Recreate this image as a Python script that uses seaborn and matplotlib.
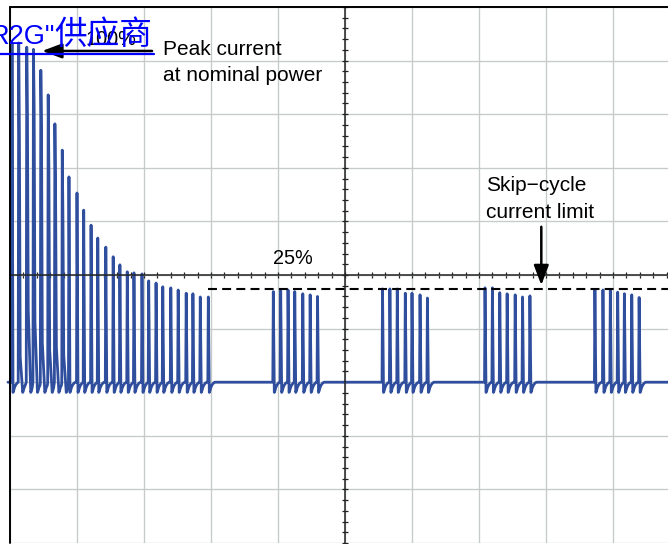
import numpy as np
import pandas as pd
import seaborn as sns
import matplotlib
matplotlib.use("Agg")
import matplotlib.pyplot as plt

# ---------------- data (oscilloscope divisions, screen centre = 0,0) ----------------
baseline = -2.0          # zero-current level
skip_limit = -0.26       # skip-cycle current limit (dashed line)
trace_start, trace_end = -5.03, 5.25

# start-up: decaying peak current
decay_t = [-4.97, -4.87, -4.75, -4.65, -4.54, -4.43, -4.33, -4.22, -4.12, -4.00,
           -3.90, -3.79, -3.69, -3.57, -3.46, -3.36, -3.25, -3.15, -3.03, -2.93,
           -2.82, -2.72, -2.60, -2.49, -2.37, -2.27, -2.16, -2.04]
decay_peak = [4.33, 4.33, 4.25, 4.21, 3.82, 3.36, 2.82, 2.33, 1.83, 1.53,
              1.21, 0.93, 0.69, 0.52, 0.34, 0.19, 0.06, 0.04, 0.02, -0.11,
              -0.15, -0.22, -0.24, -0.28, -0.34, -0.35, -0.41, -0.41]
# slower falling edge ("shoulder") of the first pulses
shoulder_hi = [np.nan, 2.57, 2.93, 3.13, 2.71, 1.96, 1.50, 1.00]
shoulder_lo = [np.nan, -1.53, -0.65, -0.88, -1.27, -1.40, -1.35, -1.50]

# skip-cycle bursts
burst1_t = [-1.07, -0.96, -0.85, -0.75, -0.63, -0.52, -0.41]
burst1_peak = [-0.31, -0.29, -0.28, -0.31, -0.35, -0.37, -0.40]
burst2_t = [0.56, 0.67, 0.78, 0.90, 1.00, 1.12, 1.23]
burst2_peak = [-0.26, -0.26, -0.26, -0.34, -0.34, -0.37, -0.43]
burst3_t = [2.09, 2.20, 2.31, 2.42, 2.54, 2.65, 2.76]
burst3_peak = [-0.24, -0.24, -0.33, -0.35, -0.37, -0.41, -0.39]
burst4_t = [3.73, 3.85, 3.96, 4.07, 4.17, 4.28, 4.39]
burst4_peak = [-0.28, -0.28, -0.28, -0.32, -0.35, -0.37, -0.42]

undershoot = 0.19

# ---------------- build the waveform ----------------
PX = 1 / 67.0  # one screen pixel in time divisions


def spike_points(t0, peak, nxt, hi=np.nan, lo=np.nan, u=undershoot):
    pts = [(t0 - 0.5 * PX, baseline), (t0, peak)]
    if not np.isnan(hi):
        pts += [(t0 + 0.7 * PX, hi), (t0 + 1.5 * PX, lo), (t0 + 4.0 * PX, baseline - u)]
        tb = t0 + 4.0 * PX
    else:
        pts += [(t0 + 1.0 * PX, baseline - u)]
        tb = t0 + 1.0 * PX
    for dt, f in [(0.6, 0.85), (1.4, 0.55), (2.6, 0.28), (4.0, 0.1), (5.5, 0.0)]:
        t = tb + dt * PX
        if t < nxt - 0.6 * PX:
            pts.append((t, baseline - f * u))
    return pts


spikes = []
for i, (t, p) in enumerate(zip(decay_t, decay_peak)):
    hi = shoulder_hi[i] if i < len(shoulder_hi) else np.nan
    lo = shoulder_lo[i] if i < len(shoulder_lo) else np.nan
    spikes.append((t, p, hi, lo))
for bt, bp in [(burst1_t, burst1_peak), (burst2_t, burst2_peak),
               (burst3_t, burst3_peak), (burst4_t, burst4_peak)]:
    for t, p in zip(bt, bp):
        spikes.append((t, p, np.nan, np.nan))

pts = [(trace_start, baseline)]
for k, (t, p, hi, lo) in enumerate(spikes):
    nxt = spikes[k + 1][0] if k + 1 < len(spikes) else trace_end
    pts += spike_points(t, p, nxt, hi, lo)
pts.append((trace_end, baseline))
df = pd.DataFrame(pts, columns=["time", "current"])

# ---------------- figure ----------------
sns.set_style("white")
plt.rcParams["font.family"] = ["Liberation Sans", "Noto Sans CJK SC", "DejaVu Sans"]

fig = plt.figure(figsize=(6.68, 5.44), dpi=100)
ax = fig.add_axes([10 / 668, 1 / 544, 670 / 668, 536 / 544])
ax.set_xlim(-5, 5)
ax.set_ylim(-5, 5)

ax.set_xticks(np.arange(-5, 6, 1))
ax.set_yticks(np.arange(-5, 6, 1))
ax.set_xticks(np.arange(-5, 5.01, 0.2), minor=True)
ax.set_yticks(np.arange(-5, 5.01, 0.2), minor=True)
ax.grid(which="major", color="#c6caca", linewidth=0.95, zorder=0)
ax.grid(which="minor", visible=False)
ax.set_axisbelow(True)

for s in ["top", "right"]:
    ax.spines[s].set_visible(False)
ax.spines["left"].set_position(("data", 0))
ax.spines["bottom"].set_position(("data", 0))
for s in ["left", "bottom"]:
    ax.spines[s].set_color("#222222")
    ax.spines[s].set_linewidth(1.1)
ax.tick_params(which="both", direction="inout", length=3.8, width=0.9,
               color="#222222", bottom=True, left=True, top=False, right=False,
               labelleft=False, labelbottom=False)

# outer border (left and top)
ax.axvline(-5, color="black", lw=1.4, clip_on=False, zorder=3)
ax.axhline(5, color="black", lw=1.4, clip_on=False, zorder=3)

# waveform
sns.lineplot(data=df, x="time", y="current", sort=False, estimator=None,
             color="#2f4e9e", linewidth=2.0, ax=ax, zorder=2,
             solid_joinstyle="round")
for ln in ax.lines:
    ln.set_clip_on(False)
ax.set_xlabel("")
ax.set_ylabel("")

# skip-cycle limit
ax.hlines(skip_limit, decay_t[-1], 5.3, colors="black", linewidth=1.5,
          linestyles=(0, (4.3, 2.5)), zorder=3)

# annotations
txt_kw = dict(color="black", fontsize=15, ha="left", va="baseline", zorder=4)
ax.text(-3.88, 4.29, "100%", **{**txt_kw, "fontsize": 14.3})
ax.text(-2.72, 4.10, "Peak current", **txt_kw)
ax.text(-2.72, 3.62, "at nominal power", **txt_kw)
ax.text(2.10, 1.57, "Skip\u2212cycle", **txt_kw)
ax.text(2.10, 1.06, "current limit", **txt_kw)
ax.text(-1.07, 0.205, "25%", **{**txt_kw, "fontsize": 14.3})

arrow_kw = dict(arrowstyle="-|>,head_length=1.2,head_width=0.45", color="black",
                lw=1.8, mutation_scale=10, shrinkA=0, shrinkB=0)
ax.annotate("", xy=(-4.52, 4.18), xytext=(-2.88, 4.18),
            arrowprops=arrow_kw, zorder=4, annotation_clip=False)
ax.annotate("", xy=(2.93, -0.19), xytext=(2.93, 0.90),
            arrowprops=arrow_kw, zorder=4)

# blue link-like text (cut at the left edge)
ax.text(-4.33, 4.31, 'R2G"', color="#0000ff", fontsize=19.5,
        ha="right", va="baseline", zorder=6, clip_on=False)
ax.text(-2.88, 4.31, '供应商', color="#0000ff", fontsize=23.5,
        family=["Noto Sans CJK SC"], ha="right", va="baseline", zorder=6,
        clip_on=False)
ax.plot([-5.3, -2.85], [4.12, 4.12], color="#0000ff", lw=1.6,
        clip_on=False, zorder=6)

fig.savefig("out.png", dpi=100)
